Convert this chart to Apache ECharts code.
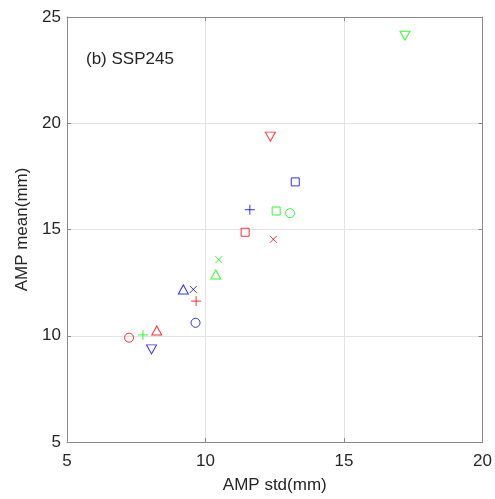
<!DOCTYPE html>
<html>
<head>
<meta charset="utf-8">
<script src="https://cdn.jsdelivr.net/npm/echarts@6/dist/echarts.min.js"></script>
<style>html,body{margin:0;padding:0;background:#fff;}#c{width:495px;height:499px;}</style>
</head>
<body>
<div id="c"></div>
<script>
// marker order for each colour group
var shapes = ['circle', 'plus', 'x', 'square', 'triUp', 'triDown'];
var redStd = [7.24, 9.66, 12.45, 11.43, 8.24, 12.34];
var redMean = [9.91, 11.63, 14.54, 14.87, 10.25, 19.37];
var greenStd = [13.05, 7.74, 10.48, 12.55, 10.37, 17.2];
var greenMean = [15.77, 10.04, 13.58, 15.87, 12.88, 24.12];
var blueStd = [9.64, 11.60, 9.56, 13.24, 9.20, 8.05];
var blueMean = [10.61, 15.93, 12.18, 17.24, 12.18, 9.36];
var xTicks = [5, 10, 15, 20];
var yTicks = [5, 10, 15, 20, 25];

var symbolDef = {
  circle: {symbol: 'circle', size: 9, rotate: 0},
  plus: {symbol: 'path://M5,0L5,10M0,5L10,5', size: 10, rotate: 0},
  x: {symbol: 'path://M0,0L10,10M10,0L0,10', size: 7, rotate: 0},
  square: {symbol: 'rect', size: 8, rotate: 0},
  triUp: {symbol: 'triangle', size: [10, 9], rotate: 0},
  triDown: {symbol: 'triangle', size: [10, 9], rotate: 180}
};
var groups = [
  {name: 'red', color: '#ff0000', xs: redStd, ys: redMean},
  {name: 'green', color: '#00ff00', xs: greenStd, ys: greenMean},
  {name: 'blue', color: '#0000ff', xs: blueStd, ys: blueMean}
];
var series = [];
groups.forEach(function (g) {
  shapes.forEach(function (s, i) {
    var d = symbolDef[s];
    series.push({
      type: 'scatter',
      name: g.name + '-' + s,
      data: [[g.xs[i], g.ys[i]]],
      symbol: d.symbol,
      symbolSize: d.size,
      symbolRotate: d.rotate,
      itemStyle: {color: 'rgba(0,0,0,0)', borderColor: g.color, borderWidth: 1},
      emphasis: {disabled: true},
      z: 5
    });
  });
});
var txt = '#262626';
var axc = '#8a8a8a';
var font = 'Liberation Sans, Arial, sans-serif';
var chart = echarts.init(document.getElementById('c'), null, {renderer: 'canvas'});
chart.setOption({
  animation: false,
  backgroundColor: '#fff',
  grid: {left: 67, right: 11, top: 17, bottom: 55, containLabel: false},
  graphic: [{
    type: 'text', left: 86, top: 51,
    style: {text: '(b) SSP245', font: '17px ' + font, fill: txt}
  }],
  xAxis: [{
    type: 'value', min: xTicks[0], max: xTicks[xTicks.length - 1], interval: 5,
    name: 'AMP std(mm)', nameLocation: 'middle', nameGap: 35,
    nameTextStyle: {fontSize: 17, color: txt, fontFamily: font},
    axisLine: {show: true, onZero: false, lineStyle: {color: axc, width: 1}},
    axisTick: {show: true, inside: true, length: 4, lineStyle: {color: axc}},
    axisLabel: {fontSize: 17, color: txt, fontFamily: font, margin: 11},
    splitLine: {show: true, lineStyle: {color: '#e3e3e3', width: 1}}
  }, {
    type: 'value', position: 'top', min: xTicks[0], max: xTicks[xTicks.length - 1], interval: 5,
    axisLine: {show: true, onZero: false, lineStyle: {color: axc, width: 1}},
    axisTick: {show: true, inside: true, length: 4, lineStyle: {color: axc}},
    axisLabel: {show: false}, splitLine: {show: false}
  }],
  yAxis: [{
    type: 'value', min: yTicks[0], max: yTicks[yTicks.length - 1], interval: 5,
    name: 'AMP mean(mm)', nameLocation: 'middle', nameGap: 36, nameRotate: 90,
    nameTextStyle: {fontSize: 17, color: txt, fontFamily: font},
    axisLine: {show: true, onZero: false, lineStyle: {color: axc, width: 1}},
    axisTick: {show: true, inside: true, length: 4, lineStyle: {color: axc}},
    axisLabel: {fontSize: 17, color: txt, fontFamily: font, margin: 6},
    splitLine: {show: true, lineStyle: {color: '#e3e3e3', width: 1}}
  }, {
    type: 'value', position: 'right', min: yTicks[0], max: yTicks[yTicks.length - 1], interval: 5,
    axisLine: {show: true, onZero: false, lineStyle: {color: axc, width: 1}},
    axisTick: {show: true, inside: true, length: 4, lineStyle: {color: axc}},
    axisLabel: {show: false}, splitLine: {show: false}
  }],
  series: series
});
</script>
</body>
</html>
